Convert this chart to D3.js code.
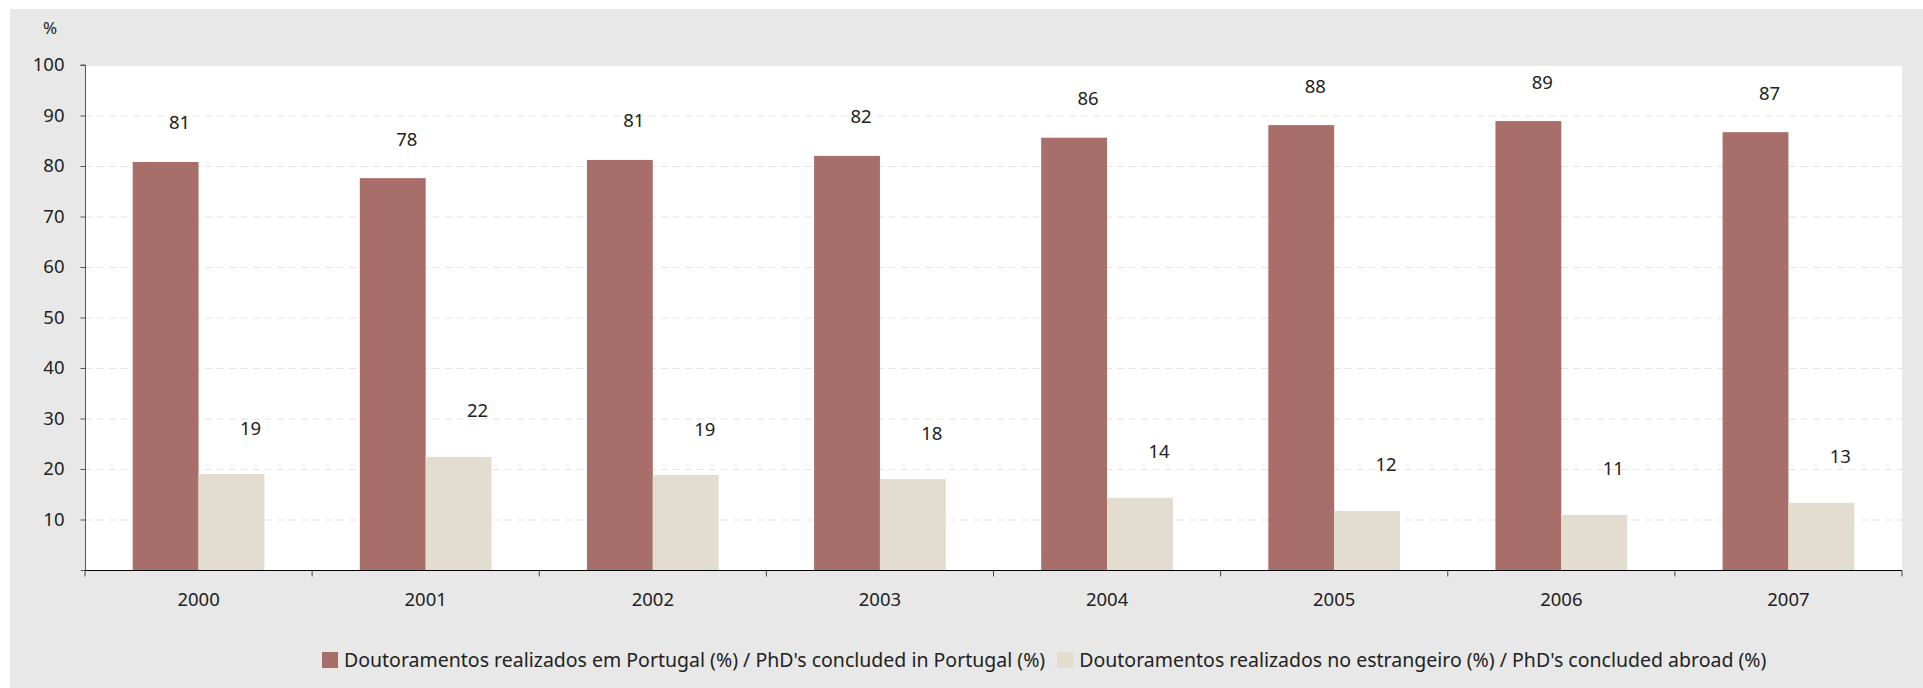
<!DOCTYPE html>
<html>
<head>
<meta charset="utf-8">
<script src="https://cdn.jsdelivr.net/npm/d3@7"></script>
<style>
  body { margin: 0; background: #fff; }
  text { font-family: "Noto Sans", sans-serif; fill: #222; }
</style>
</head>
<body>
<div id="chart"></div>
<script>
// data
const years = ["2000", "2001", "2002", "2003", "2004", "2005", "2006", "2007"];
const inPortugal = [80.8, 77.6, 81.2, 82.0, 85.6, 88.1, 88.9, 86.7];
const abroad = [19.0, 22.4, 18.8, 18.0, 14.3, 11.7, 10.9, 13.3];
const seriesNames = [
  "Doutoramentos realizados em Portugal (%) / PhD's concluded in Portugal (%)",
  "Doutoramentos realizados no estrangeiro (%) / PhD's concluded abroad (%)"
];
const yTicks = [0, 10, 20, 30, 40, 50, 60, 70, 80, 90, 100];

const colors = ["#a86f6a", "#e3ddd0"];
const width = 1923, height = 688;
const margin = {top: 65, right: 21, bottom: 118, left: 85};

const svg = d3.select("#chart").append("svg")
  .attr("width", width)
  .attr("height", height);

// outer grey panel
svg.append("rect")
  .attr("x", 10).attr("y", 9)
  .attr("width", width - 10).attr("height", height - 9)
  .attr("fill", "#e8e8e8");

const x0 = d3.scaleBand()
  .domain(years)
  .range([margin.left, width - margin.right]);

const barW = x0.bandwidth() * 0.29;
const x1 = d3.scaleBand()
  .domain([0, 1])
  .range([x0.bandwidth() / 2 - barW, x0.bandwidth() / 2 + barW]);

const y = d3.scaleLinear()
  .domain([0, 100])
  .range([height - margin.bottom, margin.top]);

// white plot area
svg.append("rect")
  .attr("x", margin.left)
  .attr("y", y(100) + 1)
  .attr("width", x0.range()[1] - margin.left)
  .attr("height", y(0) - y(100) - 1)
  .attr("fill", "#fff");

// grid lines
svg.append("g")
  .selectAll("line")
  .data(yTicks.filter(d => d > 0 && d < 100))
  .enter().append("line")
  .attr("x1", margin.left)
  .attr("x2", x0.range()[1])
  .attr("y1", d => y(d) + 0.5)
  .attr("y2", d => y(d) + 0.5)
  .attr("stroke", "#e4e4e4")
  .attr("stroke-width", 1.2)
  .attr("stroke-dasharray", "7,5");

// bars
const series = [inPortugal, abroad];
const groups = svg.append("g").selectAll("g")
  .data(series)
  .enter().append("g")
  .attr("fill", (d, i) => colors[i]);

groups.each(function(vals, s) {
  d3.select(this).selectAll("rect")
    .data(vals)
    .enter().append("rect")
    .attr("x", (d, i) => x0(years[i]) + x1(s))
    .attr("y", d => y(d))
    .attr("width", x1.bandwidth())
    .attr("height", d => y(0) - y(d));
});

// value labels (Excel-ish offsets: a bit right of bar and above)
const labelDx = [14, 19];
const labelDy = [-39, -46];
groups.each(function(vals, s) {
  d3.select(this).selectAll("text")
    .data(vals)
    .enter().append("text")
    .attr("x", (d, i) => x0(years[i]) + x1(s) + x1.bandwidth() / 2 + labelDx[s])
    .attr("y", d => y(d) + labelDy[s])
    .attr("dy", "0.35em")
    .attr("text-anchor", "middle")
    .style("font-size", "18.5px")
    .style("fill", "#222")
    .text(d => Math.round(d));
});

// y axis
const yAxis = d3.axisLeft(y)
  .tickValues(yTicks)
  .tickSize(5)
  .tickPadding(16)
  .tickFormat(d => d === 0 ? "" : d);

const yG = svg.append("g")
  .attr("transform", "translate(" + (margin.left + 0.5) + ",0)")
  .call(yAxis);
yG.select(".domain").attr("stroke", "#555").attr("d", "M-5," + y(100) + "H0V" + y(0));
yG.selectAll(".tick line").attr("stroke", "#555");
yG.selectAll("text").style("font-size", "18.5px").style("font-family", "Noto Sans").attr("fill", "#222");

// x axis: labels at centres, ticks at band edges
const xAxis = d3.axisBottom(x0).tickSize(0).tickPadding(22);
const xG = svg.append("g")
  .attr("transform", "translate(0," + (y(0) + 0.5) + ")")
  .call(xAxis);
xG.select(".domain").attr("stroke", "#000").attr("d", "M" + margin.left + ",0H" + x0.range()[1]);
xG.selectAll("text").style("font-size", "18.5px").style("font-family", "Noto Sans").attr("fill", "#222");

xG.selectAll(".edge")
  .data(years.map(d => x0(d)).concat([x0.range()[1]]))
  .enter().append("line")
  .attr("class", "edge")
  .attr("x1", d => d).attr("x2", d => d)
  .attr("y1", 0).attr("y2", 6)
  .attr("stroke", "#444");

// unit label
svg.append("text")
  .attr("x", 50).attr("y", 28)
  .attr("dy", "0.35em")
  .attr("text-anchor", "middle")
  .style("font-size", "17px")
  .text("%");

// legend
const legend = svg.append("g").attr("transform", "translate(322,652)");
let lx = 0;
seriesNames.forEach(function(name, i) {
  legend.append("rect")
    .attr("x", lx).attr("y", 0)
    .attr("width", 16).attr("height", 16)
    .attr("fill", colors[i]);
  const t = legend.append("text")
    .attr("x", lx + 22).attr("y", 8)
    .attr("dy", "0.35em")
    .style("font-size", "19.5px")
    .text(name);
  lx += 22 + t.node().getComputedTextLength() + 12;
});
</script>
</body>
</html>
